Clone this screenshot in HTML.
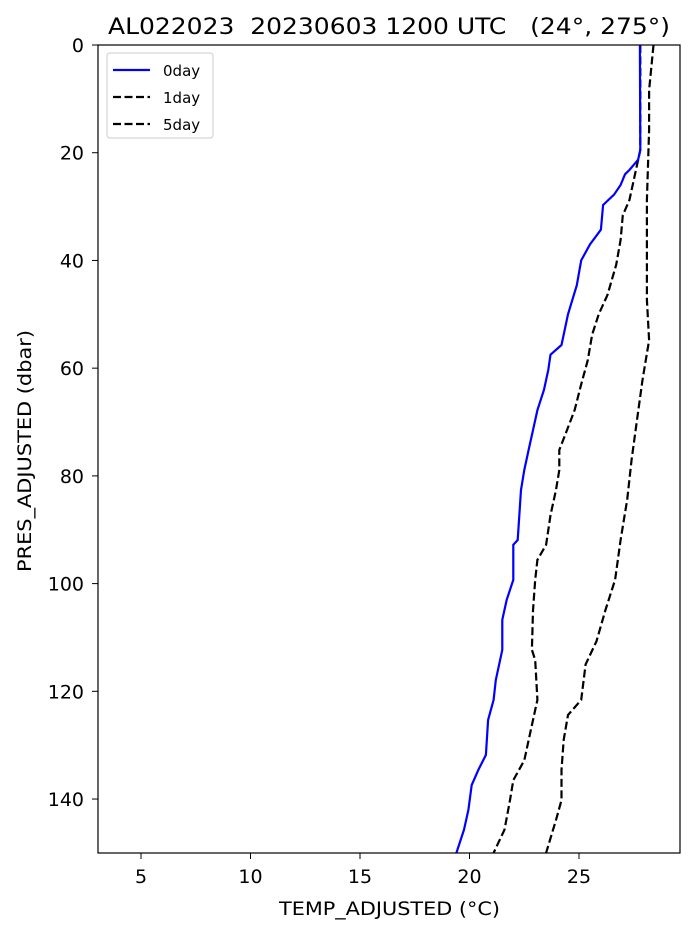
<!DOCTYPE html>
<html><head><meta charset="utf-8"><style>
body{margin:0;background:#fff;}
svg text{font-family:"DejaVu Sans","Liberation Sans",sans-serif;}
</style></head><body>
<svg id="chart" width="694" height="933" xmlns="http://www.w3.org/2000/svg">
<rect width="694" height="933" fill="#fff"/>
<g id="marks"></g>
<rect x="98" y="45" width="582" height="808" fill="none" stroke="#000" stroke-width="1.2"/>
<g id="axes"></g>
<text x="108" y="34" font-size="22" textLength="562" lengthAdjust="spacingAndGlyphs" style="white-space:pre">AL022023  20230603 1200 UTC   (24°, 275°)</text>
<text x="279" y="915" font-size="19" textLength="221" lengthAdjust="spacingAndGlyphs">TEMP_ADJUSTED (°C)</text>
<text transform="translate(31,572) rotate(-90)" font-size="19" textLength="242" lengthAdjust="spacingAndGlyphs">PRES_ADJUSTED (dbar)</text>
<g>
<rect x="107" y="53" width="106" height="85" rx="3" fill="#fff" stroke="#ccc"/>
<line x1="113" y1="70" x2="150" y2="70" stroke="blue" stroke-width="2.2"/>
<text x="163" y="76" font-size="15">0day</text>
<line x1="113" y1="97" x2="150" y2="97" stroke="#000" stroke-width="2.2" stroke-dasharray="8,3.5"/>
<text x="163" y="103" font-size="15">1day</text>
<line x1="113" y1="124" x2="150" y2="124" stroke="#000" stroke-width="2.2" stroke-dasharray="8,3.5"/>
<text x="163" y="130" font-size="15">5day</text>
</g>
</svg>
<script>
const xTicks=[5,10,15,20,25];
const yTicks=[0,20,40,60,80,100,120,140];
const pres0=[0,19.5,21.3,23.2,24,26,27.8,29.7,34.3,37,40,44.6,50,55.7,57.5,60.3,64,67.8,71.5,75.2,78.9,82.6,91.9,92.8,99.3,103,106.7,112.3,117.9,121.6,125.3,131.8,134.6,137.4,142,145.7,150];
const temp0=[27.78,27.8,27.7,27.3,27.1,26.9,26.6,26.1,26.0,25.5,25.1,24.9,24.5,24.2,23.7,23.6,23.4,23.1,22.9,22.7,22.5,22.35,22.2,22.0,22.0,21.7,21.5,21.5,21.2,21.1,20.85,20.75,20.4,20.1,19.95,19.75,19.4];
const pres1=[0,19.5,22.3,28.8,31.6,36.2,40.8,46.4,50,53.8,58.5,63,67.8,71.5,75.2,78.9,82.6,87.3,92.8,95.6,99.3,105,112.3,114.2,121.6,127.2,132.8,136.5,140.2,145.7,150];
const temp1=[27.8,27.8,27.65,27.3,27.0,26.9,26.7,26.3,25.9,25.6,25.4,25.1,24.8,24.45,24.1,24.1,23.95,23.7,23.5,23.1,23.0,22.9,22.85,23.0,23.1,22.8,22.5,22.0,21.85,21.6,21.1];
const pres5=[0,8.4,15.8,28.8,47.3,54.8,62.2,69.6,77,84.4,91.9,99.3,105,110.7,115,121.6,124.4,129,134.6,140.2,143.9,150];
const temp5=[28.4,28.2,28.2,28.1,28.1,28.2,27.9,27.65,27.4,27.2,26.9,26.65,26.2,25.8,25.3,25.1,24.5,24.3,24.2,24.2,23.95,23.5];
const X=t=>141+(t-5)*21.9;
const Y=p=>45+p*5.386;
const NS="http://www.w3.org/2000/svg";
const marks=document.getElementById('marks'),axes=document.getElementById('axes');
function line(pr,tp,color,dash,name){
 const el=document.createElementNS(NS,'polyline');
 el.setAttribute('points',pr.map((p,i)=>X(tp[i]).toFixed(1)+','+Y(p).toFixed(1)).join(' '));
 el.setAttribute('fill','none');el.setAttribute('stroke',color);el.setAttribute('stroke-width','2.2');
 if(dash)el.setAttribute('stroke-dasharray','8,3.5');
 
 
 marks.appendChild(el);
}
line(pres1,temp1,'#000',true,'series-1day');
line(pres5,temp5,'#000',true,'series-5day');
line(pres0,temp0,'blue',false,'series-0day');
xTicks.forEach(t=>{
 const l=document.createElementNS(NS,'line');
 l.setAttribute('x1',X(t));l.setAttribute('x2',X(t));l.setAttribute('y1',853);l.setAttribute('y2',859);l.setAttribute('stroke','#000');
 
 
 axes.appendChild(l);
 const tx=document.createElementNS(NS,'text');
 tx.setAttribute('x',X(t));tx.setAttribute('y',883);tx.setAttribute('font-size','19');tx.setAttribute('text-anchor','middle');
 tx.textContent=t;
 
 
 axes.appendChild(tx);
});
yTicks.forEach(p=>{
 const l=document.createElementNS(NS,'line');
 l.setAttribute('x1',92);l.setAttribute('x2',98);l.setAttribute('y1',Y(p));l.setAttribute('y2',Y(p));l.setAttribute('stroke','#000');
 
 
 axes.appendChild(l);
 const tx=document.createElementNS(NS,'text');
 tx.setAttribute('x',84);tx.setAttribute('y',Y(p)+7);tx.setAttribute('font-size','19');tx.setAttribute('text-anchor','end');
 tx.textContent=p;
 
 
 axes.appendChild(tx);
});
</script>
</body></html>
